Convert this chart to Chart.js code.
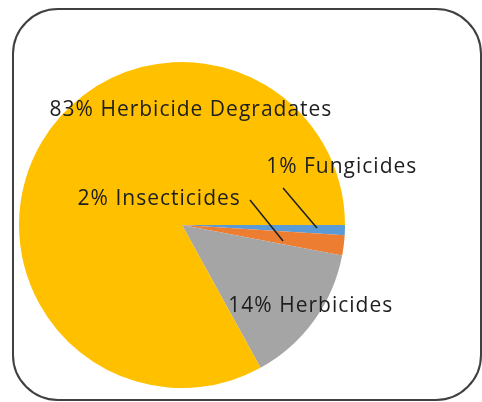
<!DOCTYPE html>
<html>
<head>
<meta charset="utf-8">
<script src="https://cdn.jsdelivr.net/npm/chart.js@4.4.1/dist/chart.umd.min.js"></script>
<style>
  html, body { margin: 0; padding: 0; background: #fff; }
  #wrap { position: relative; width: 482px; height: 402px; overflow: hidden; }
  #frame { position: absolute; left: 12px; top: 8px; width: 466px; height: 389px;
           border: 2px solid #404040; border-radius: 46px; }
  #c { position: absolute; left: 0; top: 0; }
</style>
</head>
<body>
<div id="wrap">
  <div id="frame"></div>
  <canvas id="c" width="482" height="402"></canvas>
</div>
<script>
const categories = ["Fungicides", "Insecticides", "Herbicides", "Herbicide Degradates"];
const percentages = [1, 2, 14, 83];
const sliceColors = ["#5B9BD5", "#ED7D31", "#A5A5A5", "#FFC000"];

// label placement, in units of the pie radius relative to its centre
const labelPlacement = [
  { dx: 0.98, dy: -0.356, line: [0.62, -0.227, 0.828, 0.018] },
  { dx: -0.14, dy: -0.16, line: [0.417, -0.153, 0.62, 0.098] },
  { dx: 0.79, dy: 0.50 },
  { dx: 0.055, dy: -0.705 }
];

const labelPlugin = {
  id: 'pieLabels',
  afterDatasetsDraw(chart) {
    const ctx = chart.ctx;
    const arc = chart.getDatasetMeta(0).data[0];
    const cx = arc.x, cy = arc.y, r = arc.outerRadius;
    ctx.save();
    ctx.font = '21px "Open Sans"';
    ctx.letterSpacing = '1px';
    ctx.fillStyle = '#1e1e1e';
    ctx.textAlign = 'center';
    ctx.textBaseline = 'middle';
    categories.forEach((name, i) => {
      const p = labelPlacement[i];
      ctx.fillText(percentages[i] + '% ' + name, cx + p.dx * r, cy + p.dy * r);
      if (p.line) {
        ctx.beginPath();
        ctx.strokeStyle = '#1e1e1e';
        ctx.lineWidth = 1.5;
        ctx.moveTo(cx + p.line[0] * r, cy + p.line[1] * r);
        ctx.lineTo(cx + p.line[2] * r, cy + p.line[3] * r);
        ctx.stroke();
      }
    });
    ctx.restore();
  }
};

new Chart(document.getElementById('c'), {
  type: 'pie',
  data: {
    labels: categories,
    datasets: [{
      data: percentages,
      backgroundColor: sliceColors,
      borderWidth: 0
    }]
  },
  options: {
    responsive: false,
    animation: false,
    rotation: 90,
    layout: { padding: { left: 19, right: 137, top: 62, bottom: 14 } },
    plugins: { legend: { display: false }, tooltip: { enabled: false } }
  },
  plugins: [labelPlugin]
});
</script>
</body>
</html>
